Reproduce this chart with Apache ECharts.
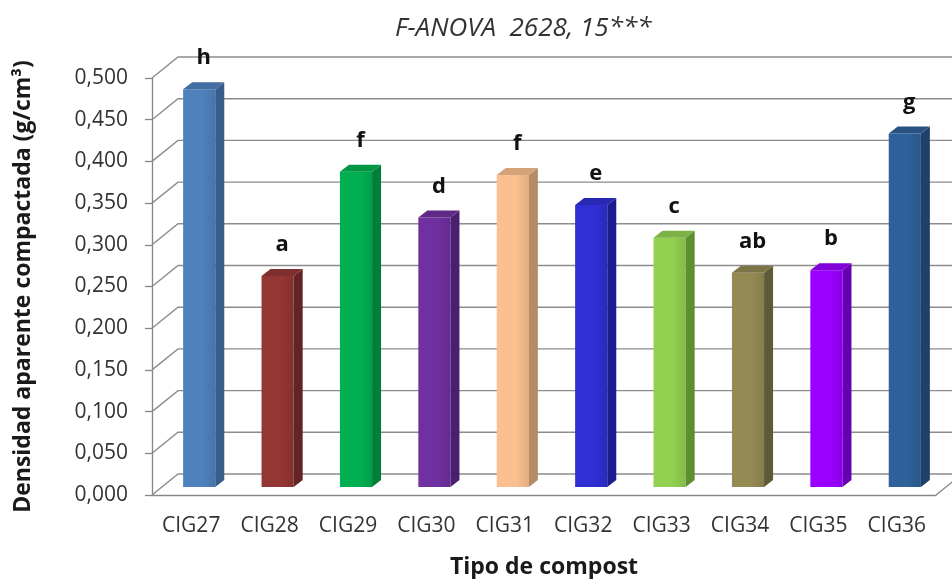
<!DOCTYPE html>
<html>
<head>
<meta charset="utf-8">
<script src="https://cdn.jsdelivr.net/npm/echarts@6/dist/echarts.min.js"></script>
<style>
  html, body { margin: 0; padding: 0; background: #fff; }
  #chart { width: 952px; height: 579px; }
</style>
</head>
<body>
<div id="chart"></div>
<script>
const categories = ["CIG27", "CIG28", "CIG29", "CIG30", "CIG31", "CIG32", "CIG33", "CIG34", "CIG35", "CIG36"];
const densities = [0.477, 0.253, 0.378, 0.323, 0.374, 0.338, 0.299, 0.257, 0.260, 0.424];
const letters = ["h", "a", "f", "d", "f", "e", "c", "ab", "b", "g"];
const yTicks = [0, 0.05, 0.1, 0.15, 0.2, 0.25, 0.3, 0.35, 0.4, 0.45, 0.5];

// front / side colours per bar
const frontColors = ["#4f81bd", "#943634", "#00b050", "#7030a0", "#fac08f", "#2f2fd4", "#92d050", "#948a54", "#9900ff", "#2e6099"];
const sideColors = ["#385d8a", "#632423", "#007f3a", "#4b1f70", "#b58a64", "#1d1d8f", "#5f8e30", "#5f5936", "#6600b3", "#1f4068"];

const FONT = "Open Sans";
// depth offsets (px) for the pseudo-3D walls and bars
const WALL_DX = 26, WALL_DY = -21;
const BAR_DX = 8, BAR_DY = -8;
const DEPTH_DX = 9, DEPTH_DY = -7;

const chart = echarts.init(document.getElementById("chart"), null, { renderer: "canvas" });

function shade(hex, k) {
  const n = parseInt(hex.slice(1), 16);
  const r = Math.round(((n >> 16) & 255) * k);
  const g = Math.round(((n >> 8) & 255) * k);
  const b = Math.round((n & 255) * k);
  return "rgb(" + r + "," + g + "," + b + ")";
}

chart.setOption({
  animation: false,
  textStyle: { fontFamily: FONT },
  title: {
    text: "F-ANOVA  2628, 15***",
    left: 390,
    top: 11,
    textStyle: { fontFamily: FONT, fontStyle: "italic", fontWeight: "normal", fontSize: 26, color: "#333" },
  },
  grid: { left: 152, right: 16, top: 78, bottom: 84, containLabel: false, outerBoundsMode: "none" },
  xAxis: {
    type: "category",
    data: categories,
    name: "Tipo de compost",
    nameLocation: "middle",
    nameGap: 61,
    nameTextStyle: { fontFamily: FONT, fontWeight: "bold", fontSize: 23, color: "#1a1a1a" },
    axisLine: { lineStyle: { color: "#868686", width: 1.3 } },
    axisTick: { length: 7, lineStyle: { color: "#868686", width: 1.3 } },
    axisLabel: { fontSize: 21, color: "#333", margin: 21, interval: 0 },
    splitLine: { show: false },
  },
  yAxis: {
    type: "value",
    min: 0,
    max: 0.5,
    interval: 0.05,
    name: "Densidad aparente compactada (g/cm³)",
    nameLocation: "middle",
    nameRotate: 90,
    nameGap: 117,
    nameTextStyle: { fontFamily: FONT, fontWeight: "bold", fontSize: 23, color: "#1a1a1a" },
    axisLine: { show: true, lineStyle: { color: "#868686", width: 1.3 } },
    axisTick: { show: true, length: 7, lineStyle: { color: "#868686", width: 1.3 } },
    axisLabel: {
      fontSize: 21,
      color: "#333",
      margin: 24,
      formatter: (v) => v.toFixed(3).replace(".", ","),
    },
    splitLine: { show: false },
  },
  series: [
    {
      // back wall gridlines + diagonal connectors to the front ticks
      type: "custom",
      z: 1,
      silent: true,
      data: yTicks.map((t) => [0, t]),
      renderItem: (params, api) => {
        const cs = params.coordSys;
        const y = api.coord([0, api.value(1)])[1];
        const xl = cs.x, xr = cs.x + cs.width;
        const children = [
          {
            type: "polyline",
            shape: { points: [[xl, y], [xl + WALL_DX, y + WALL_DY], [xr + WALL_DX, y + WALL_DY]] },
            style: { stroke: "#8c8c8c", lineWidth: 1.4, fill: null },
          },
        ];
        if (params.dataIndex === 0) {
          children.push({
            type: "line",
            shape: { x1: xr, y1: y, x2: xr + WALL_DX, y2: y + WALL_DY },
            style: { stroke: "#8c8c8c", lineWidth: 1.4 },
          });
        }
        return { type: "group", children };
      },
    },
    {
      type: "custom",
      z: 3,
      data: densities.map((v, i) => [i, v]),
      renderItem: (params, api) => {
        const i = api.value(0);
        const v = api.value(1);
        const base = api.coord([i, 0]);
        const top = api.coord([i, v]);
        const band = api.size([1, 0])[0];
        const w = band * 0.41;
        const x0 = base[0] - w / 2 + BAR_DX;
        const x1 = x0 + w;
        const yb = base[1] + BAR_DY;
        const yt = top[1] + BAR_DY;
        const fc = frontColors[i];
        const sc = sideColors[i];
        return {
          type: "group",
          children: [
            {
              type: "rect",
              shape: { x: x0, y: yt, width: w, height: yb - yt },
              style: {
                fill: new echarts.graphic.LinearGradient(0, 0, 1, 0, [
                  { offset: 0, color: fc },
                  { offset: 0.6, color: fc },
                  { offset: 1, color: shade(fc, 0.9) },
                ]),
              },
            },
            {
              type: "polygon",
              shape: { points: [[x1, yt], [x1 + DEPTH_DX, yt + DEPTH_DY], [x1 + DEPTH_DX, yb + DEPTH_DY], [x1, yb]] },
              style: { fill: sc },
            },
            {
              type: "polygon",
              shape: { points: [[x0, yt], [x0 + DEPTH_DX, yt + DEPTH_DY], [x1 + DEPTH_DX, yt + DEPTH_DY], [x1, yt]] },
              style: { fill: shade(fc, 0.85) },
            },
            {
              type: "text",
              style: {
                text: letters[i],
                x: (x0 + x1 + DEPTH_DX) / 2,
                y: yt - 20,
                align: "center",
                verticalAlign: "bottom",
                font: "bold 22px '" + FONT + "'",
                fill: "#111",
              },
            },
          ],
        };
      },
    },
  ],
});
</script>
</body>
</html>
